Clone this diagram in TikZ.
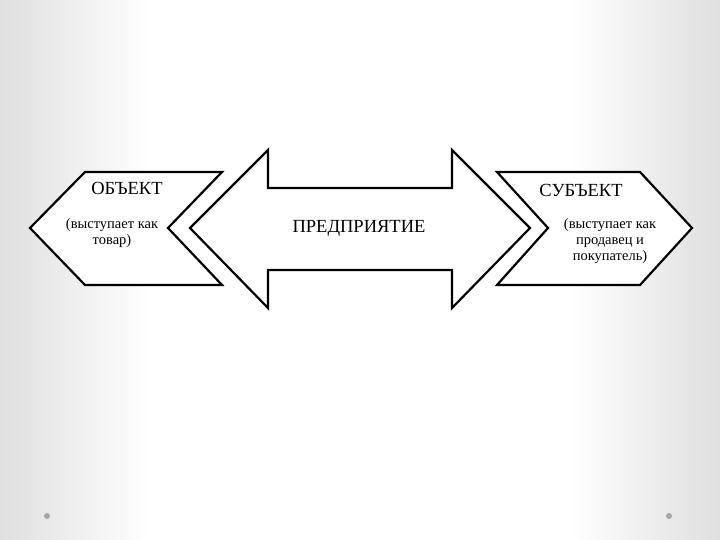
\documentclass[tikz,border=0pt]{standalone}
\usepackage{fontspec}
\setmainfont{Liberation Serif}
\begin{document}
\begin{tikzpicture}[x=1pt,y=-1pt,
  shp/.style={draw=black,line width=2.2pt,fill=white,line join=miter},
  lbl/.style={font=\fontsize{18.5}{20}\selectfont,inner sep=0pt},
  sm/.style={font=\fontsize{14.5}{16}\selectfont,align=center,inner sep=0pt},
  dot/.style={circle,fill=gray!70,inner sep=0pt,minimum size=6pt}]
\useasboundingbox (0,0) rectangle (720,540);
\shade[left color=gray!25,right color=white] (0,0) rectangle (150,540);
\fill[white] (150,0) rectangle (570,540);
\shade[left color=white,right color=gray!25] (570,0) rectangle (720,540);
\draw[shp] (30,228) -- (85,172) -- (222,172) -- (168,228) -- (222,285) -- (85,285) -- cycle;
\draw[shp] (190,228) -- (268,150) -- (268,188) -- (452,188) -- (452,150) -- (530,228) -- (452,308) -- (452,270) -- (268,270) -- (268,308) -- cycle;
\draw[shp] (497,172) -- (640,172) -- (692,228) -- (640,285) -- (497,285) -- (548,228) -- cycle;
\node[lbl] (ob) at (127,188) {ОБЪЕКТ};
\node[sm] (obt) at (112,233) {(выступает как\\товар)};
\node[lbl] (pr) at (359,228) {ПРЕДПРИЯТИЕ};
\node[lbl] (su) at (581,190) {СУБЪЕКТ};
\node[sm] (sut) at (610,241) {(выступает как\\продавец и\\покупатель)};
\node[dot] (d1) at (47,516) {};
\node[dot] (d2) at (669,516) {};
\end{tikzpicture}
\end{document}
